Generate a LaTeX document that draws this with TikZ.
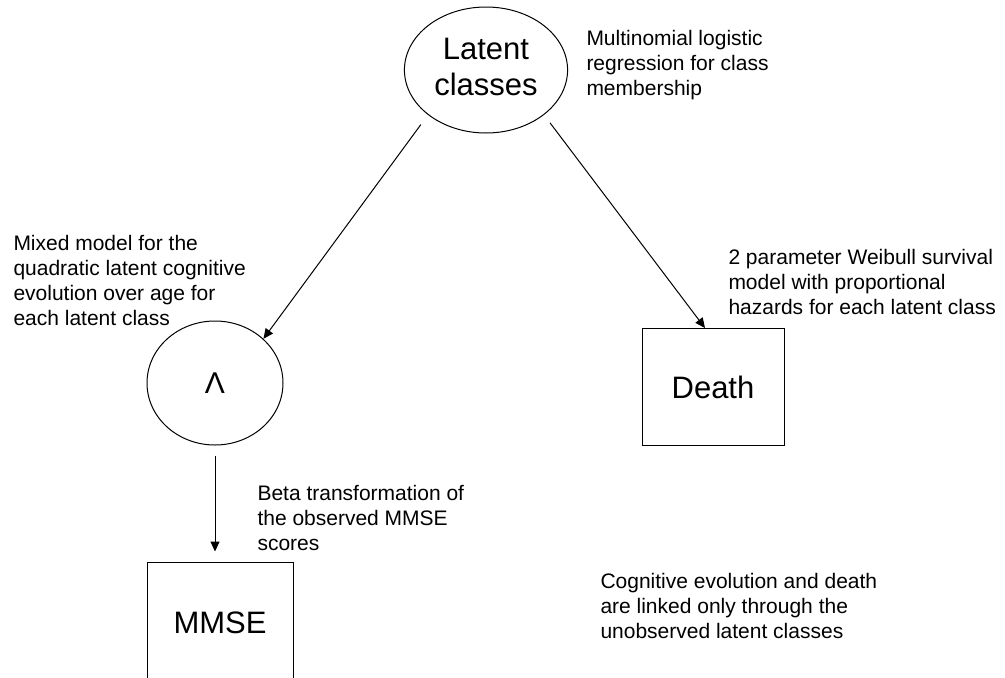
\documentclass[tikz,border=0pt]{standalone}
\usepackage{fontspec}
\setmainfont{Liberation Sans}
\usetikzlibrary{shapes.geometric,arrows.meta}

\begin{document}
\begin{tikzpicture}[x=1pt, y=-1pt, line width=1pt, >={Triangle[length=10pt,width=9pt]}]
      \clip (0,0) rectangle (1005,678);

      \node (L) [ellipse, draw, minimum width=136pt, minimum height=126pt, inner sep=0pt] at (486,70) {
        \fontsize{31}{36}\selectfont
        \begin{tabular}{c}
          Latent \\
          classes
        \end{tabular}
      };
      \node (C) [ellipse, draw, minimum width=136pt, minimum height=124pt, inner sep=0pt] at (215,383) {
        \fontsize{30}{36}\selectfont Λ
      };
      \node (D) [rectangle, draw, minimum width=142pt, minimum height=117pt] at (713,387) {
        \fontsize{31}{36}\selectfont Death
      };
      \node (M) [rectangle, draw, minimum width=146pt, minimum height=122pt] at (220,623) {
        \fontsize{31}{36}\selectfont MMSE
      };

      \node (T1) [anchor=north west, inner sep=0pt] at (586,27) {
        \fontsize{21}{25}\selectfont
        \begin{tabular}{@{}l}
          Multinomial logistic \\
          regression for class \\
          membership
        \end{tabular}
      };
      \node (T2) [anchor=north west, inner sep=0pt] at (13,232) {
        \fontsize{21}{25}\selectfont
        \begin{tabular}{@{}l}
          Mixed model for the \\
          quadratic latent cognitive \\
          evolution over age for \\
          each latent class
        \end{tabular}
      };
      \node (T3) [anchor=north west, inner sep=0pt] at (728,246) {
        \fontsize{21}{25}\selectfont
        \begin{tabular}{@{}l}
          2 parameter Weibull survival \\
          model with proportional \\
          hazards for each latent class
        \end{tabular}
      };
      \node (T4) [anchor=north west, inner sep=0pt] at (257,482) {
        \fontsize{21}{25}\selectfont
        \begin{tabular}{@{}l}
          Beta transformation of \\
          the observed MMSE \\
          scores
        \end{tabular}
      };
      \node (T5) [anchor=north west, inner sep=0pt] at (600,570) {
        \fontsize{21}{25}\selectfont
        \begin{tabular}{@{}l}
          Cognitive evolution and death \\
          are linked only through the \\
          unobserved latent classes
        \end{tabular}
      };

      \draw[->, shorten <=12pt] (L.south west) to (C.north east);
      \draw[->, shorten <=10pt] (L.south east) to ([xshift=-8pt]D.north);
      \draw[->, shorten <=10pt, shorten >=10pt] (C.south) to (C.south |- M.north);
    \end{tikzpicture}
\end{document}
